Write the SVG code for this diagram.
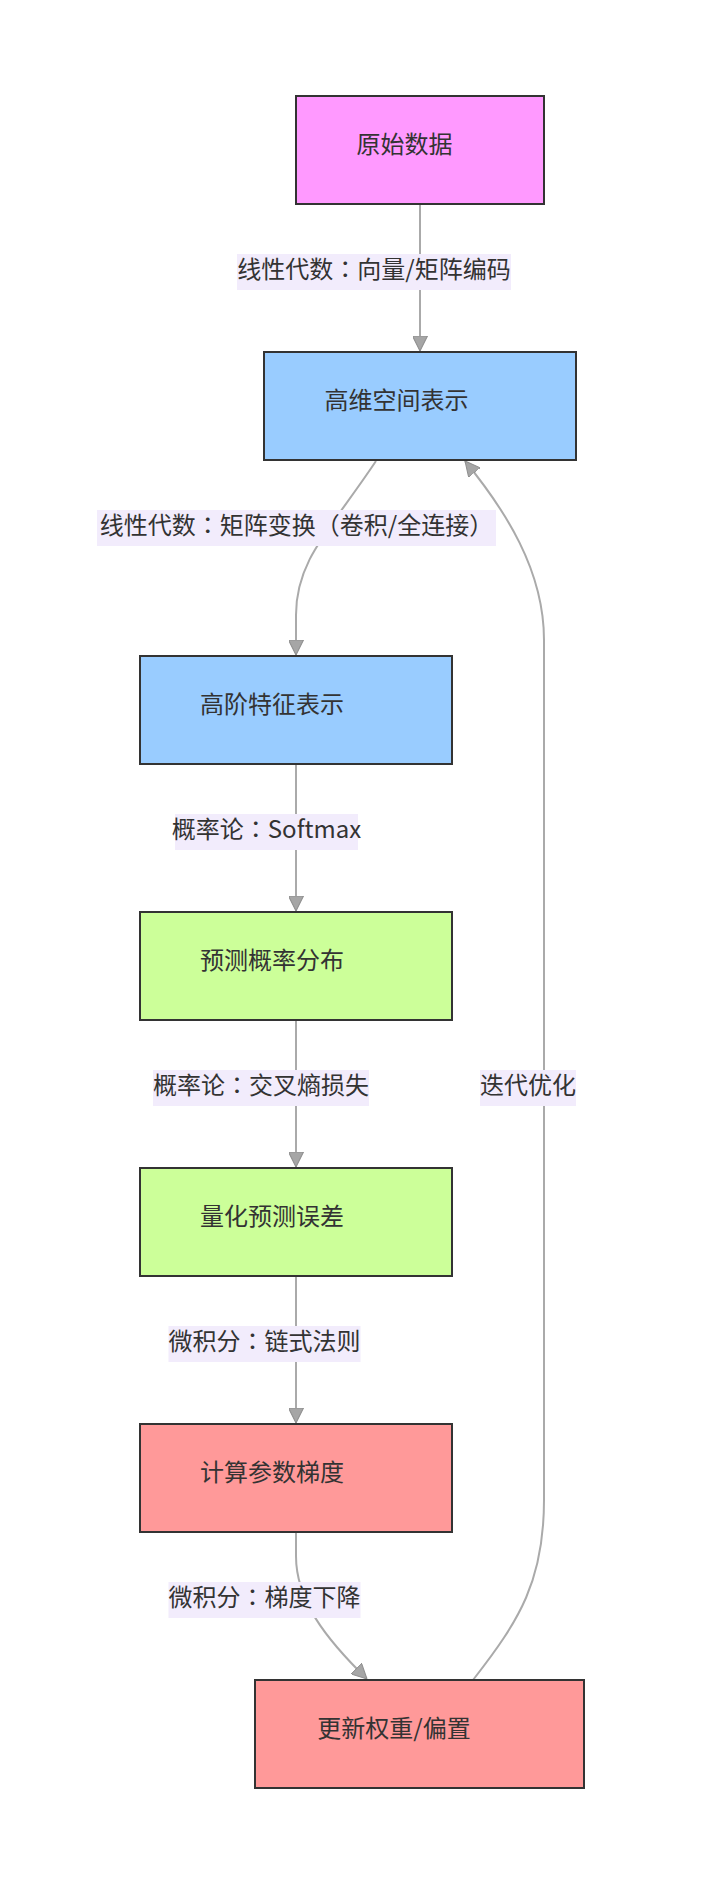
<svg xmlns="http://www.w3.org/2000/svg" width="704" height="1884" viewBox="0 0 704 1884">
<defs>
<style>
.node rect{stroke:#333333;stroke-width:2}
.nt{font-family:"Noto Sans CJK SC","Noto Sans",sans-serif;font-size:24px;fill:#333333;text-anchor:middle}
.edge{fill:none;stroke:#aaaaaa;stroke-width:2}
.lbg{fill:#f2ecfc}
.lt{font-family:"Noto Sans CJK SC","Noto Sans",sans-serif;font-size:24px;fill:#333333;text-anchor:middle}
.colon{font-family:"Noto Sans CJK TC","Noto Sans CJK SC",sans-serif}
.c1{fill:#ff99ff}.c2{fill:#99ccff}.c3{fill:#ccff99}.c4{fill:#ff9999}
</style>
<marker id="arr" viewBox="0 0 10 10" refX="10" refY="5" markerUnits="userSpaceOnUse" markerWidth="15" markerHeight="15" orient="auto">
<path d="M0,0 L10,5 L0,10 z" fill="#a6a6a6" stroke="#8f8f8f" stroke-width="0.7"/>
</marker>
</defs>
<rect width="704" height="1884" fill="#ffffff"/>
<g id="connectors">
<path class="edge" d="M420,205 L420,351" marker-end="url(#arr)"/>
<path class="edge" d="M376,461 C330,530 296,560 296,615 L296,655" marker-end="url(#arr)"/>
<path class="edge" d="M296,765 L296,911" marker-end="url(#arr)"/>
<path class="edge" d="M296,1021 L296,1167" marker-end="url(#arr)"/>
<path class="edge" d="M296,1277 L296,1423" marker-end="url(#arr)"/>
<path class="edge" d="M296,1533 L296,1556 C296,1600 325,1638 367,1679" marker-end="url(#arr)"/>
<path class="edge" d="M473,1680 C520,1620 544,1580 544,1500 L544,640 C544,570 505,510 465,461" marker-end="url(#arr)"/>
</g>
<g id="edge-labels">
<g id="label1"><rect class="lbg" x="237" y="254" width="274" height="36"/><text class="lt" x="374" y="278">线性代数<tspan class="colon">：</tspan>向量/矩阵编码</text></g>
<g id="label2"><rect class="lbg" x="97" y="510" width="399" height="36"/><text class="lt" x="296.5" y="534">线性代数<tspan class="colon">：</tspan>矩阵变换（卷积/全连接）</text></g>
<g id="label3"><rect class="lbg" x="175" y="814" width="183" height="36"/><text class="lt" x="266.5" y="838">概率论<tspan class="colon">：</tspan>Softmax</text></g>
<g id="label4"><rect class="lbg" x="153" y="1070" width="216" height="36"/><text class="lt" x="261" y="1094">概率论<tspan class="colon">：</tspan>交叉熵损失</text></g>
<g id="label5"><rect class="lbg" x="168.5" y="1326" width="192" height="36"/><text class="lt" x="264.5" y="1350">微积分<tspan class="colon">：</tspan>链式法则</text></g>
<g id="label6"><rect class="lbg" x="168.5" y="1582" width="192" height="36"/><text class="lt" x="264.5" y="1606">微积分<tspan class="colon">：</tspan>梯度下降</text></g>
<g id="label7"><rect class="lbg" x="480" y="1070" width="96" height="36"/><text class="lt" x="528" y="1094">迭代优化</text></g>
</g>
<g id="n1" class="node"><rect class="c1" x="296" y="96" width="248" height="108"/><text class="nt" x="404.5" y="153">原始数据</text></g>
<g id="n2" class="node"><rect class="c2" x="264" y="352" width="312" height="108"/><text class="nt" x="396.5" y="409">高维空间表示</text></g>
<g id="n3" class="node"><rect class="c2" x="140" y="656" width="312" height="108"/><text class="nt" x="272" y="713">高阶特征表示</text></g>
<g id="n4" class="node"><rect class="c3" x="140" y="912" width="312" height="108"/><text class="nt" x="272" y="969">预测概率分布</text></g>
<g id="n5" class="node"><rect class="c3" x="140" y="1168" width="312" height="108"/><text class="nt" x="272" y="1225">量化预测误差</text></g>
<g id="n6" class="node"><rect class="c4" x="140" y="1424" width="312" height="108"/><text class="nt" x="272" y="1481">计算参数梯度</text></g>
<g id="n7" class="node"><rect class="c4" x="255" y="1680" width="329" height="108"/><text class="nt" x="394" y="1737">更新权重/偏置</text></g>
</svg>
